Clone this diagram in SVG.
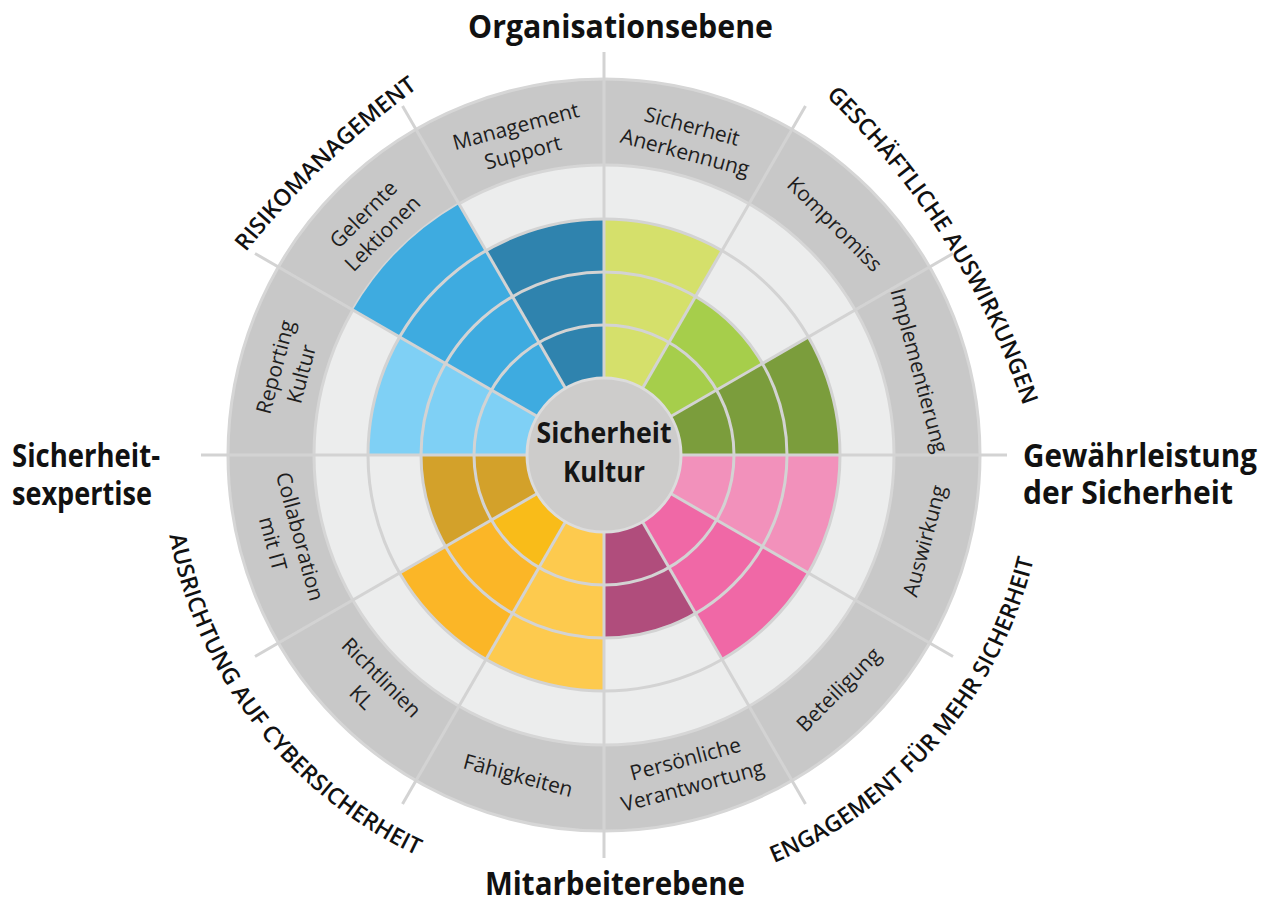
<svg xmlns="http://www.w3.org/2000/svg" width="1281" height="902" viewBox="0 0 1281 902">
<style>
.lbl{font-family:"Open Sans","Noto Sans","Liberation Sans",sans-serif;font-size:21px;fill:#1e1e1e;text-anchor:middle}
.ttl{font-family:"Open Sans","Noto Sans","Liberation Sans",sans-serif;font-size:32px;font-weight:700;fill:#111}
.arc{font-family:"Open Sans","Noto Sans","Liberation Sans",sans-serif;font-size:23px;font-weight:600;fill:#111;text-anchor:middle}
.ctr{font-family:"Open Sans","Noto Sans","Liberation Sans",sans-serif;font-size:28px;font-weight:700;fill:#151515;text-anchor:middle}
.ring{fill:none;stroke:#d3d3d3;stroke-width:3}
.sep{stroke:#d3d3d3;stroke-width:3;fill:none}
</style>
<defs>
<path id="pGesch" d="M777.1,52.8 A780,780 0 0 1 1041.7,468.1"/>
<path id="pRisiko" d="M198.3,317.4 A900,900 0 0 1 485,43.4"/>
<path id="pEngag" d="M733.9,877.5 A442,442 0 0 0 1041.6,517.3"/>
<path id="pAusr" d="M163.9,495.8 A442,442 0 0 0 453.5,870.6"/>
</defs>
<rect width="1281" height="902" fill="#ffffff"/>
<g id="base">
<circle cx="604" cy="455" r="376" fill="#c8c8c8" stroke="#d6d6d6" stroke-width="3"/>
<circle cx="604" cy="455" r="290" fill="#eceded" stroke="#d6d6d6" stroke-width="3"/>
</g>
<g id="sectors">
<path id="s-anerkennung" d="M604,455 L604,219 A236,236 0 0 1 722,250.6 Z" fill="#d5e06b"/>
<path id="s-kompromiss" d="M604,455 L695.5,296.5 A183,183 0 0 1 762.5,363.5 Z" fill="#a6ce4b"/>
<path id="s-implementierung" d="M604,455 L808.4,337 A236,236 0 0 1 840,455 Z" fill="#7b9d3c"/>
<path id="s-auswirkung" d="M604,455 L840,455 A236,236 0 0 1 808.4,573 Z" fill="#f291bb"/>
<path id="s-beteiligung" d="M604,455 L808.4,573 A236,236 0 0 1 722,659.4 Z" fill="#f068a6"/>
<path id="s-persoenliche" d="M604,455 L695.5,613.5 A183,183 0 0 1 604,638 Z" fill="#b04d7c"/>
<path id="s-faehigkeiten" d="M604,455 L604,691 A236,236 0 0 1 486,659.4 Z" fill="#fdca4e"/>
<path id="s-richtlinien" d="M604,455 L486,659.4 A236,236 0 0 1 399.6,573 Z" fill="#fbb627"/>
<path id="s-richtlinien-in" d="M604,455 L539,567.6 A130,130 0 0 1 491.4,520 Z" fill="#f9bc19"/>
<path id="s-collaboration" d="M604,455 L445.5,546.5 A183,183 0 0 1 421,455 Z" fill="#d3a12a"/>
<path id="s-reporting" d="M604,455 L368,455 A236,236 0 0 1 399.6,337 Z" fill="#7fd0f5"/>
<path id="s-gelernte" d="M604,455 L352.9,310 A290,290 0 0 1 459,203.9 Z" fill="#3eabe0"/>
<path id="s-management" d="M604,455 L486,250.6 A236,236 0 0 1 604,219 Z" fill="#2f83ae"/>
</g>
<g id="connectors">
<circle class="ring" cx="604" cy="455" r="130"/>
<circle class="ring" cx="604" cy="455" r="183"/>
<circle class="ring" cx="604" cy="455" r="236"/>
<line class="sep" x1="604" y1="455" x2="604" y2="52"/>
<line class="sep" x1="604" y1="455" x2="805.5" y2="106"/>
<line class="sep" x1="604" y1="455" x2="953" y2="253.5"/>
<line class="sep" x1="604" y1="455" x2="1007" y2="455"/>
<line class="sep" x1="604" y1="455" x2="953" y2="656.5"/>
<line class="sep" x1="604" y1="455" x2="805.5" y2="804"/>
<line class="sep" x1="604" y1="455" x2="604" y2="858"/>
<line class="sep" x1="604" y1="455" x2="402.5" y2="804"/>
<line class="sep" x1="604" y1="455" x2="255" y2="656.5"/>
<line class="sep" x1="604" y1="455" x2="201" y2="455"/>
<line class="sep" x1="604" y1="455" x2="255" y2="253.5"/>
<line class="sep" x1="604" y1="455" x2="402.5" y2="106"/>
</g>
<g id="center">
<circle cx="604" cy="455" r="77" fill="#cdcccb" stroke="#dcdcdc" stroke-width="3"/>
<text class="ctr" x="604" y="443" textLength="135" lengthAdjust="spacingAndGlyphs">Sicherheit</text>
<text class="ctr" x="604" y="482" textLength="82" lengthAdjust="spacingAndGlyphs">Kultur</text>
</g>
<g id="labels">
<g id="l-management" transform="rotate(-15 604 455)"><text class="lbl" x="604" y="122">Management</text><text class="lbl" x="604" y="149">Support</text></g>
<g id="l-anerkennung" transform="rotate(15 604 455)"><text class="lbl" x="604" y="122">Sicherheit</text><text class="lbl" x="604" y="149">Anerkennung</text></g>
<g id="l-kompromiss" transform="rotate(45 604 455)"><text class="lbl" x="604" y="136">Kompromiss</text></g>
<g id="l-implementierung" transform="rotate(75 604 455)"><text class="lbl" x="604" y="136">Implementierung</text></g>
<g id="l-auswirkung" transform="rotate(-75 604 455)"><text class="lbl" x="604" y="794">Auswirkung</text></g>
<g id="l-beteiligung" transform="rotate(-45 604 455)"><text class="lbl" x="604" y="794">Beteiligung</text></g>
<g id="l-persoenliche" transform="rotate(-15 604 455)"><text class="lbl" x="604" y="777">Persönliche</text><text class="lbl" x="604" y="805">Verantwortung</text></g>
<g id="l-faehigkeiten" transform="rotate(15 604 455)"><text class="lbl" x="604" y="794">Fähigkeiten</text></g>
<g id="l-richtlinien" transform="rotate(45 604 455)"><text class="lbl" x="604" y="777">Richtlinien</text><text class="lbl" x="604" y="805">KL</text></g>
<g id="l-collaboration" transform="rotate(75 604 455)"><text class="lbl" x="604" y="777">Collaboration</text><text class="lbl" x="604" y="805">mit IT</text></g>
<g id="l-reporting" transform="rotate(-75 604 455)"><text class="lbl" x="604" y="122">Reporting</text><text class="lbl" x="604" y="149">Kultur</text></g>
<g id="l-gelernte" transform="rotate(-45 604 455)"><text class="lbl" x="604" y="122">Gelernte</text><text class="lbl" x="604" y="149">Lektionen</text></g>
</g>
<g id="arc-titles">
<text class="arc"><textPath href="#pGesch" startOffset="50%">GESCHÄFTLICHE AUSWIRKUNGEN</textPath></text>
<text class="arc"><textPath href="#pRisiko" startOffset="50%">RISIKOMANAGEMENT</textPath></text>
<text class="arc"><textPath href="#pEngag" startOffset="50%">ENGAGEMENT FÜR MEHR SICHERHEIT</textPath></text>
<text class="arc"><textPath href="#pAusr" startOffset="50%">AUSRICHTUNG AUF CYBERSICHERHEIT</textPath></text>
</g>
<g id="titles">
<text class="ttl" x="468" y="38" textLength="305" lengthAdjust="spacingAndGlyphs">Organisationsebene</text>
<text class="ttl" x="485" y="895" textLength="260" lengthAdjust="spacingAndGlyphs">Mitarbeiterebene</text>
<text class="ttl" x="12" y="467" textLength="148" lengthAdjust="spacingAndGlyphs">Sicherheit-</text>
<text class="ttl" x="12" y="505" textLength="140" lengthAdjust="spacingAndGlyphs">sexpertise</text>
<text class="ttl" x="1023" y="467" textLength="234" lengthAdjust="spacingAndGlyphs">Gewährleistung</text>
<text class="ttl" x="1023" y="504" textLength="210" lengthAdjust="spacingAndGlyphs">der Sicherheit</text>
</g>
</svg>
